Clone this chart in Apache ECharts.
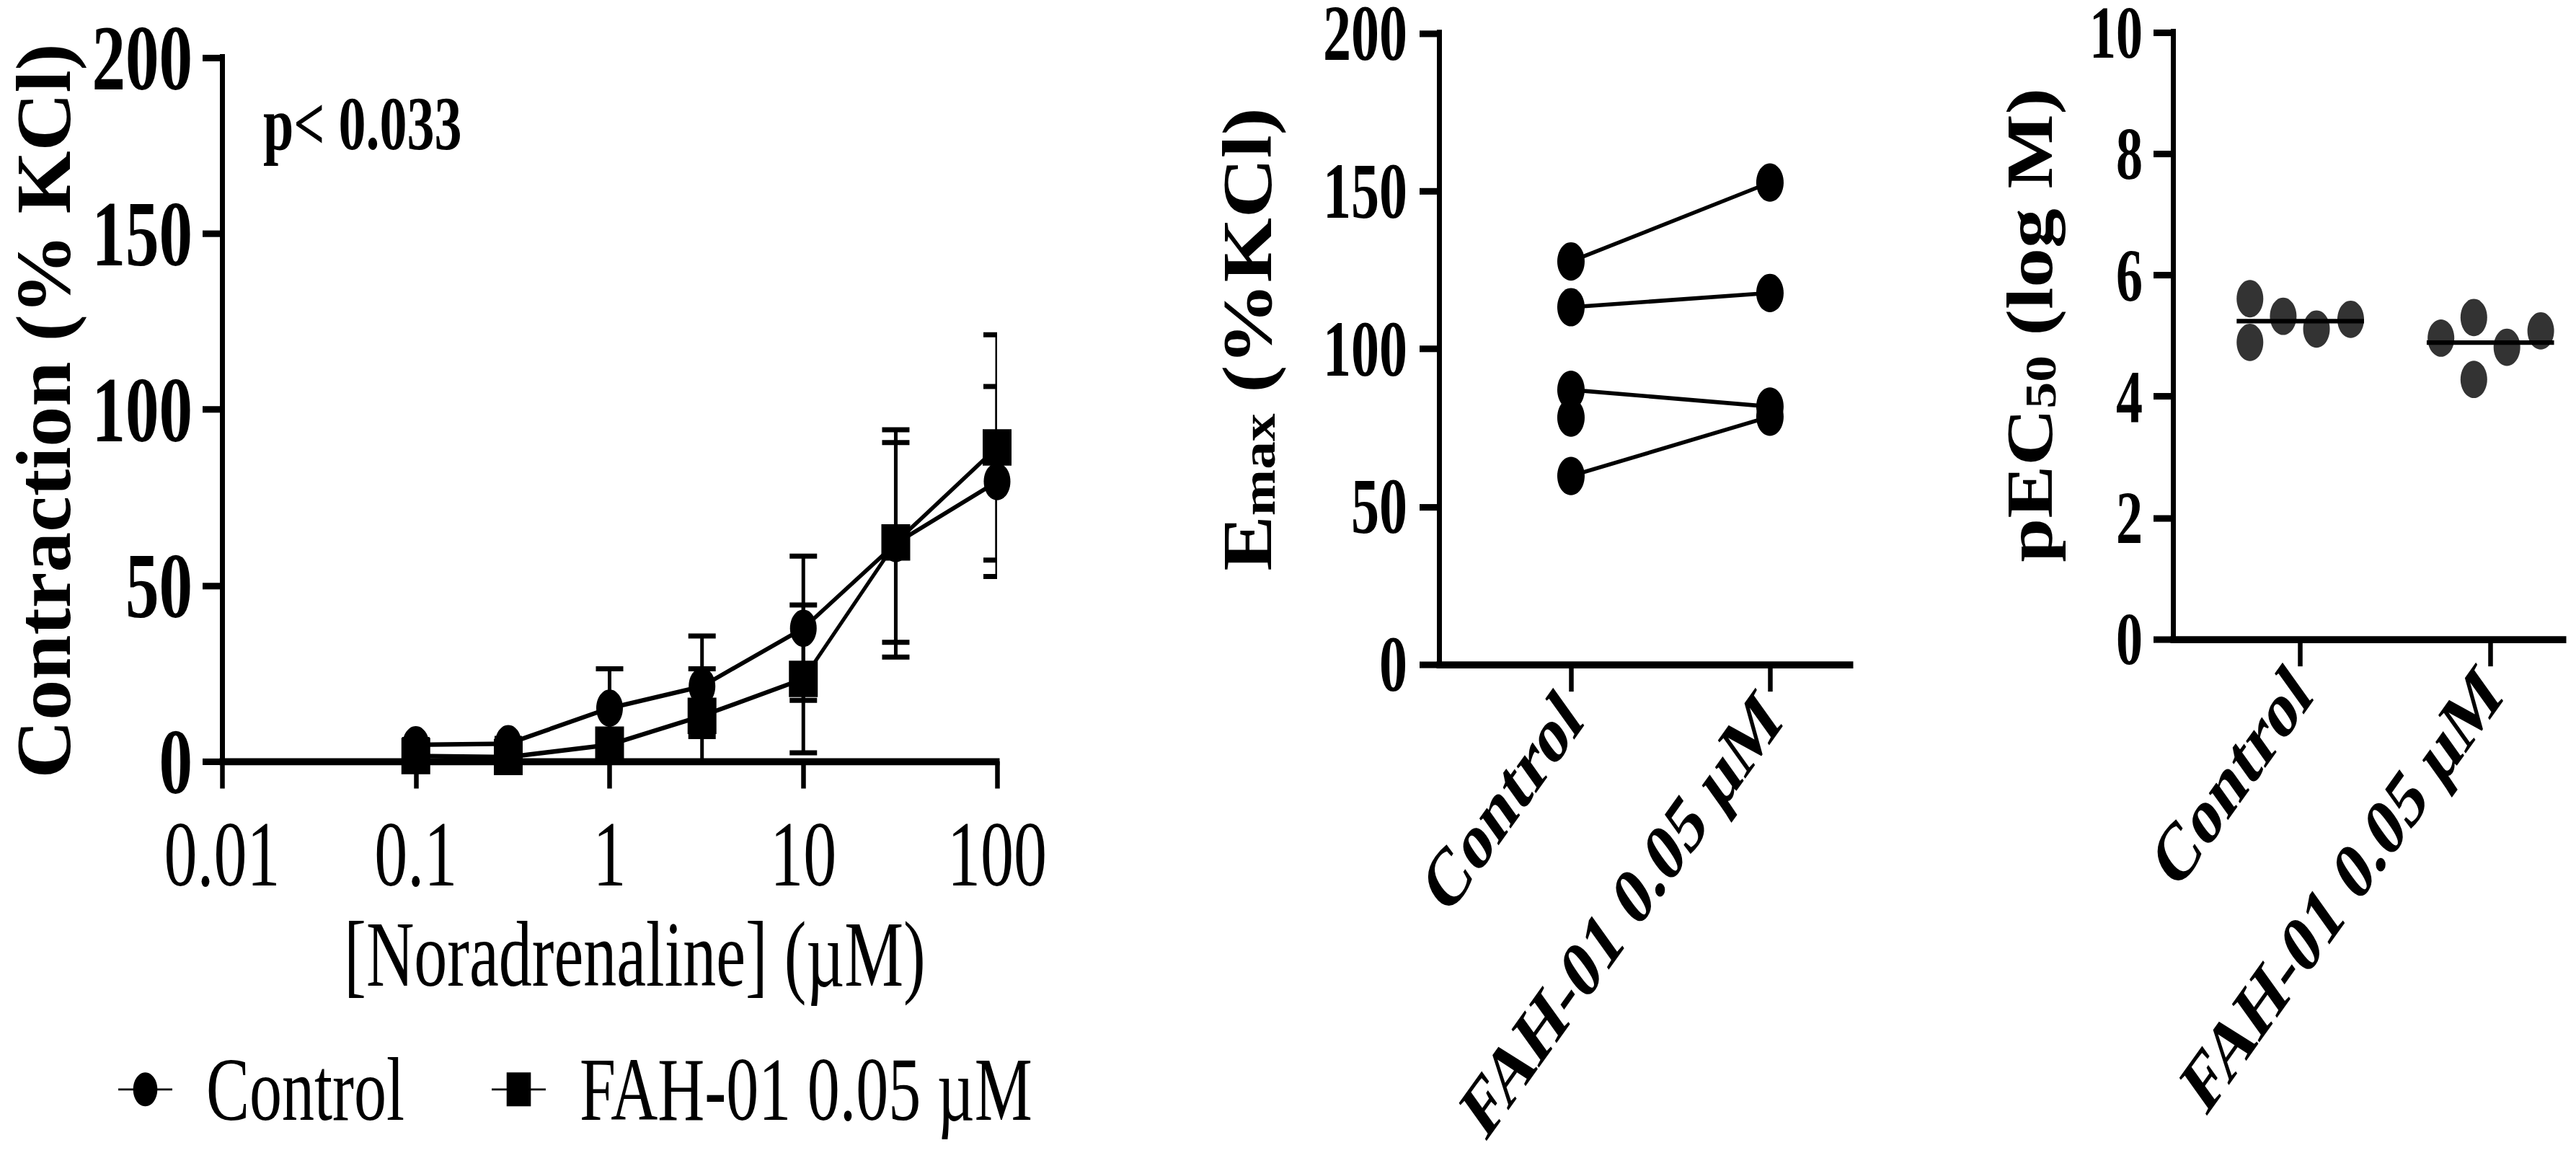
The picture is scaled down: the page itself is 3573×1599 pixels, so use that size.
<!DOCTYPE html>
<html>
<head>
<meta charset="utf-8">
<title>Noradrenaline response with FAH-01</title>
<script src="https://cdn.jsdelivr.net/npm/echarts@6.0.0/dist/echarts.min.js"></script>
<style>
  html, body { margin: 0; padding: 0; background: #fff; overflow: hidden; }
  #wrap { width: 3573px; height: 1599px; overflow: hidden; }
  /* the figure is laid out on a 1/1.4 height scale and stretched vertically,
     which gives the tall, narrow lettering and oval dots of the original */
  #chart { width: 3573px; height: 1160px; transform: scaleY(1.4002); transform-origin: 0 0; }
</style>
</head>
<body>
<div id="wrap"><div id="chart"></div></div>
<script>
// ---------- data ----------
const groupNames = ["Control", "FAH-01 0.05 µM"];

// panel A: concentration-response (mean ± SD, % KCl)
const concUM = [0.1, 0.3, 1, 3, 10, 30, 100];
const controlMean = [4.7, 5.0, 15.1, 21.3, 37.8, 61.9, 79.5];
const controlSD = [1.5, 1.5, 11.2, 14.3, 20.5, 32.3, 27.0];
const fahMean = [1.5, 1.2, 4.7, 12.9, 23.4, 62.2, 89.2];
const fahSD = [1.0, 1.0, 3.0, 13.4, 21.0, 28.4, 32.0];
const logTickLabels = ["0.01", "0.1", "1", "10", "100"];
const pLabel = "p< 0.033";

// panel B: Emax, paired per preparation (null = no paired value)
const emaxControl = [127.7, 113.2, 87.0, 78.2, 59.7];
const emaxFah = [152.7, 117.7, 81.7, null, 78.5];

// panel C: pEC50 scatter (value + horizontal jitter inside the column)
const pecControl = [5.61, 4.89, 5.32, 5.11, 5.27];
const pecControlJitter = [-0.265, -0.265, -0.09, 0.085, 0.265];
const pecFah = [4.96, 5.30, 4.28, 4.81, 5.08];
const pecFahJitter = [-0.26, -0.087, -0.087, 0.087, 0.265];

// ---------- styles ----------
const FONT = "Liberation Serif";
const black = "#000";
const axisLine = { show: true, onZero: false, lineStyle: { color: black, width: 7, cap: "square" } };
const axisTick = { show: true, length: 27, lineStyle: { color: black, width: 6.5 } };

function mean(arr) {
  return arr.reduce((a, b) => a + b, 0) / arr.length;
}

function errorBar(params, api) {
  const x = api.value(0);
  const lo = api.coord([x, api.value(1)]);
  const hi = api.coord([x, api.value(2)]);
  const half = 19;
  const st = { stroke: black, lineWidth: 5 };
  return {
    type: "group",
    children: [
      { type: "line", shape: { x1: lo[0], y1: lo[1], x2: hi[0], y2: hi[1] }, style: st },
      { type: "line", shape: { x1: hi[0] - half, y1: hi[1], x2: hi[0] + half, y2: hi[1] }, style: st },
      { type: "line", shape: { x1: lo[0] - half, y1: lo[1], x2: lo[0] + half, y2: lo[1] }, style: st }
    ]
  };
}

function meanLine(params, api) {
  const x = api.value(0);
  const a = api.coord([x - 0.335, api.value(1)]);
  const b = api.coord([x + 0.335, api.value(1)]);
  return { type: "line", shape: { x1: a[0], y1: a[1], x2: b[0], y2: b[1] }, style: { stroke: black, lineWidth: 4.5 } };
}

function yAxisCfg(gridIndex, max, interval, fontSize, margin) {
  return {
    type: "value", gridIndex, min: 0, max, interval,
    axisLine, axisTick, splitLine: { show: false },
    axisLabel: { color: black, fontFamily: FONT, fontWeight: "bold", fontSize, lineHeight: 60, margin }
  };
}

function groupAxisCfg(gridIndex, min, max) {
  return {
    type: "value", gridIndex, min, max,
    axisLine,
    axisTick: Object.assign({ customValues: [0, 1] }, axisTick),
    splitLine: { show: false },
    axisLabel: {
      customValues: [0, 1],
      formatter: (v) => groupNames[Math.round(v)],
      rotate: 45, color: black, fontFamily: FONT, fontWeight: "bold", fontSize: 82, margin: 40
    }
  };
}

// ---------- series ----------
const series = [
  {
    type: "custom", name: "control-sd", xAxisIndex: 0, yAxisIndex: 0, z: 1, clip: true,
    data: concUM.map((c, i) => [c, controlMean[i] - controlSD[i], controlMean[i] + controlSD[i]]),
    encode: { x: 0, y: [1, 2] }, renderItem: errorBar
  },
  {
    type: "custom", name: "fah-sd", xAxisIndex: 0, yAxisIndex: 0, z: 1, clip: true,
    data: concUM.map((c, i) => [c, fahMean[i] - fahSD[i], fahMean[i] + fahSD[i]]),
    encode: { x: 0, y: [1, 2] }, renderItem: errorBar
  },
  {
    type: "line", name: groupNames[0], xAxisIndex: 0, yAxisIndex: 0, z: 3,
    data: concUM.map((c, i) => [c, controlMean[i]]),
    symbol: "circle", symbolSize: 37,
    itemStyle: { color: black }, lineStyle: { color: black, width: 4.5 }
  },
  {
    type: "line", name: groupNames[1], xAxisIndex: 0, yAxisIndex: 0, z: 3,
    data: concUM.map((c, i) => [c, fahMean[i]]),
    symbol: "rect", symbolSize: [40, 36],
    itemStyle: { color: black }, lineStyle: { color: black, width: 4.5 }
  }
];

emaxControl.forEach((c, i) => {
  const f = emaxFah[i];
  series.push({
    type: "line", name: "emax-" + i, xAxisIndex: 1, yAxisIndex: 1, z: 3,
    data: f == null ? [[0, c]] : [[0, c], [1, f]],
    symbol: "circle", symbolSize: 38,
    itemStyle: { color: black }, lineStyle: { color: black, width: 4 }
  });
});

series.push(
  {
    type: "custom", name: "pec-mean", xAxisIndex: 2, yAxisIndex: 2, z: 2,
    data: [[0, mean(pecControl)], [1, mean(pecFah)]], renderItem: meanLine
  },
  {
    type: "scatter", name: "pec-control", xAxisIndex: 2, yAxisIndex: 2, z: 3,
    data: pecControl.map((v, i) => [0 + pecControlJitter[i], v]),
    symbol: "circle", symbolSize: 37, itemStyle: { color: black }
  },
  {
    type: "scatter", name: "pec-fah", xAxisIndex: 2, yAxisIndex: 2, z: 3,
    data: pecFah.map((v, i) => [1 + pecFahJitter[i], v]),
    symbol: "circle", symbolSize: 37, itemStyle: { color: black }
  }
);

// ---------- titles (rotated, drawn as graphic text) ----------
function rotatedTitle(x, y, text, rich, scaleX) {
  return {
    type: "text", x, y, rotation: Math.PI / 2, scaleX,
    style: { text, rich, align: "center", verticalAlign: "middle", fill: black }
  };
}
const big = (size) => ({ fontFamily: FONT, fontWeight: "bold", fontSize: size, lineHeight: size * 1.33, verticalAlign: "bottom", fill: black });
const sub = (size) => ({ fontFamily: FONT, fontWeight: "bold", fontSize: size, lineHeight: size, verticalAlign: "bottom", fill: black });

const option = {
  animation: false,
  backgroundColor: "#fff",
  grid: [
    { left: 308, top: 57, width: 1075, height: 697, outerBoundsMode: "none" },
    { left: 1996, top: 33, width: 571, height: 625, outerBoundsMode: "none" },
    { left: 3014, top: 32, width: 542, height: 601, outerBoundsMode: "none" }
  ],
  xAxis: [
    {
      type: "log", logBase: 10, gridIndex: 0, min: 0.01, max: 100,
      axisLine, axisTick, splitLine: { show: false }, minorTick: { show: false },
      axisLabel: {
        formatter: (v) => logTickLabels[Math.round(Math.log10(v)) + 2],
        color: black, fontFamily: FONT, fontSize: 92, margin: 46
      },
      name: "[Noradrenaline] (µM)", nameLocation: "middle", nameGap: 145,
      nameTextStyle: { color: black, fontFamily: FONT, fontSize: 92, padding: [0, 0, 0, 70] }
    },
    groupAxisCfg(1, -0.663, 1.406),
    groupAxisCfg(2, -0.670, 1.386)
  ],
  yAxis: [
    yAxisCfg(0, 200, 50, 93, 41),
    yAxisCfg(1, 200, 50, 78, 44),
    yAxisCfg(2, 10, 2, 74, 42)
  ],
  legend: {
    data: groupNames, left: 163, top: 1034, padding: 0,
    itemWidth: 75, itemHeight: 42, itemGap: 120, selectedMode: false,
    textStyle: { color: black, fontFamily: FONT, fontSize: 90, padding: [0, 0, 0, 42] }
  },
  graphic: [
    {
      type: "text", x: 365, y: 84,
      style: { text: pLabel, fontFamily: FONT, fontWeight: "bold", fontSize: 76, fill: black }
    },
    rotatedTitle(43, 407, "{a|Contraction (% KCl)}", { a: big(108) }, 0.74),
    rotatedTitle(1714, 336, "{a|E}{b|max}{a| (%KCl)}", { a: big(98), b: sub(66) }, 0.837),
    rotatedTitle(2800, 322, "{a|pEC}{b|50}{a| (log M)}", { a: big(92), b: sub(62) }, 0.85)
  ],
  series
};

const chart = echarts.init(document.getElementById("chart"), null, { renderer: "svg" });
chart.setOption(option);
</script>
</body>
</html>
